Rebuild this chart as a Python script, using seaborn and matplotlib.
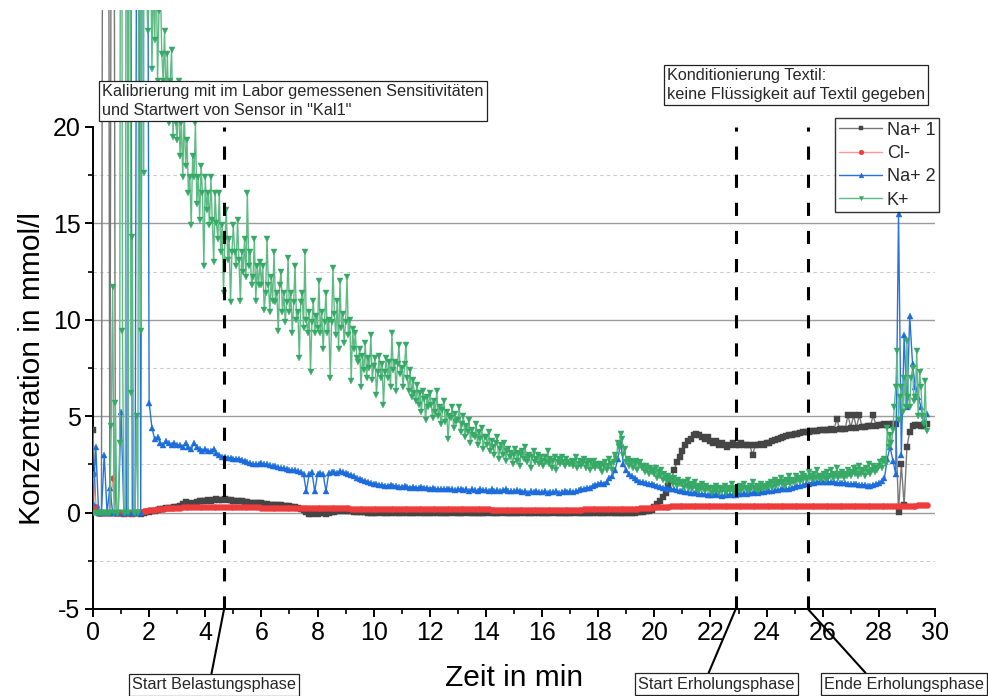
import numpy as np
import pandas as pd
import matplotlib
matplotlib.use("Agg")
import matplotlib.pyplot as plt
import seaborn as sns
from matplotlib.ticker import FixedLocator, MultipleLocator

# Sampling times in minutes: Na+/Cl- sensors every 0.1 min, K+ sensor every 0.05 min
time_min = np.round(np.arange(298) * 0.1, 1)
time_k = np.round(np.arange(595) * 0.05, 2)

# Na+ sensor 1 (mmol/l)
na1 = [
    4.3, 0.2, 0.0, 0.0, 80, 80, 0.0, 70, 0.0, 0.0,
    0.0, -0.05, 0.0, 0.0, -0.05, 0.0, 0.0, -0.05, 0.0, 0.02,
    0.05, 0.08, 0.1, 0.15, 0.18, 0.2, 0.22, 0.25, 0.25, 0.28,
    0.3, 0.35, 0.45, 0.55, 0.5, 0.45, 0.5, 0.55, 0.6, 0.6,
    0.6, 0.65, 0.6, 0.65, 0.7, 0.65, 0.65, 0.7, 0.65, 0.65,
    0.6, 0.62, 0.58, 0.6, 0.55, 0.55, 0.52, 0.5, 0.5, 0.48,
    0.48, 0.45, 0.45, 0.42, 0.4, 0.4, 0.38, 0.38, 0.35, 0.35,
    0.32, 0.3, 0.28, 0.25, 0.2, 0.12, 0.05, -0.05, -0.05, 0.0,
    -0.05, 0.0, 0.03, -0.05, 0.0, 0.05, 0.05, 0.08, 0.1, 0.1,
    0.1, 0.08, 0.06, 0.05, 0.05, 0.03, 0.02, 0.02, 0.0, 0.0,
    0.0, 0.0, 0.02, 0.0, -0.02, 0.0, 0.0, 0.02, 0.0, 0.0,
    0.0, 0.02, 0.0, 0.0, -0.02, 0.0, 0.02, 0.0, 0.0, 0.0,
    0.0, 0.0, 0.02, 0.0, 0.0, -0.02, 0.0, 0.0, 0.02, 0.0,
    0.0, 0.0, 0.0, 0.02, 0.0, 0.0, -0.02, 0.0, 0.0, 0.0,
    0.0, 0.02, 0.0, 0.0, 0.0, 0.0, 0.02, 0.0, -0.02, 0.0,
    0.0, 0.0, 0.0, 0.02, 0.0, 0.0, 0.0, 0.0, 0.02, 0.0,
    0.0, -0.02, 0.0, 0.0, 0.02, 0.0, 0.0, 0.0, 0.0, 0.0,
    0.0, 0.0, 0.02, 0.0, 0.0, 0.0, -0.02, 0.0, 0.0, 0.02,
    0.0, 0.0, 0.0, 0.0, 0.02, 0.0, 0.0, 0.0, 0.0, 0.0,
    0.0, 0.0, 0.0, 0.0, 0.02, 0.03, 0.05, 0.08, 0.1, 0.15,
    0.3, 0.45, 0.6, 0.8, 1.0, 1.4, 1.7, 2.2, 2.6, 2.9,
    3.2, 3.5, 3.7, 3.8, 4.0, 4.1, 4.0, 3.9, 3.8, 3.9,
    3.7, 3.6, 3.7, 3.5, 3.6, 3.5, 3.4, 3.5, 3.6, 3.5,
    3.5, 3.6, 3.5, 3.5, 3.5, 3.0, 3.5, 3.5, 3.55, 3.5,
    3.6, 3.6, 3.7, 3.75, 3.8, 3.85, 3.9, 3.95, 4.0, 4.05,
    4.1, 4.1, 4.15, 4.2, 4.2, 4.2, 4.25, 4.25, 4.25, 4.3,
    4.3, 4.3, 4.3, 4.35, 4.3, 4.85, 4.35, 4.35, 4.35, 5.05,
    4.4, 5.05, 4.4, 5.05, 4.45, 4.45, 4.5, 4.5, 5.05, 4.5,
    4.55, 4.55, 4.6, 4.55, 4.6, 4.6, 4.6, 0.05, 2.5, 0.4,
    3.4, 4.2, 4.5, 4.55, 4.55, 4.5, 4.5, 4.6,
]

# Cl- sensor (mmol/l)
cl = [
    2.0, 0.3, 0.0, 0.0, 0.0, 0.0, 0.0, 1.8, 0.0, 0.0,
    0.0, 0.0, 0.0, 0.0, 0.0, 0.0, 0.02, 0.05, 0.08, 0.1,
    0.12, 0.14, 0.16, 0.18, 0.2, 0.21, 0.22, 0.23, 0.24, 0.25,
    0.25, 0.26, 0.27, 0.27, 0.28, 0.28, 0.29, 0.29, 0.3, 0.3,
    0.3, 0.3, 0.31, 0.31, 0.3, 0.3, 0.3, 0.3, 0.3, 0.29,
    0.29, 0.29, 0.28, 0.28, 0.28, 0.28, 0.27, 0.27, 0.27, 0.27,
    0.26, 0.26, 0.26, 0.26, 0.25, 0.25, 0.25, 0.25, 0.25, 0.24,
    0.24, 0.24, 0.24, 0.24, 0.24, 0.23, 0.23, 0.23, 0.23, 0.23,
    0.23, 0.23, 0.22, 0.22, 0.22, 0.22, 0.22, 0.22, 0.22, 0.22,
    0.22, 0.22, 0.21, 0.21, 0.21, 0.21, 0.21, 0.21, 0.21, 0.21,
    0.21, 0.21, 0.2, 0.2, 0.2, 0.2, 0.2, 0.2, 0.2, 0.2,
    0.2, 0.2, 0.19, 0.19, 0.19, 0.19, 0.19, 0.19, 0.19, 0.19,
    0.19, 0.19, 0.18, 0.18, 0.18, 0.18, 0.18, 0.18, 0.18, 0.18,
    0.18, 0.18, 0.17, 0.17, 0.17, 0.17, 0.17, 0.17, 0.17, 0.17,
    0.17, 0.17, 0.16, 0.16, 0.16, 0.16, 0.16, 0.16, 0.16, 0.16,
    0.16, 0.16, 0.16, 0.16, 0.16, 0.16, 0.16, 0.16, 0.16, 0.16,
    0.16, 0.16, 0.16, 0.16, 0.16, 0.16, 0.16, 0.16, 0.16, 0.16,
    0.16, 0.16, 0.16, 0.16, 0.16, 0.17, 0.17, 0.17, 0.17, 0.17,
    0.17, 0.17, 0.17, 0.18, 0.18, 0.18, 0.18, 0.19, 0.19, 0.19,
    0.19, 0.2, 0.2, 0.21, 0.21, 0.22, 0.23, 0.24, 0.25, 0.26,
    0.27, 0.28, 0.29, 0.3, 0.31, 0.31, 0.32, 0.32, 0.33, 0.33,
    0.33, 0.34, 0.34, 0.34, 0.34, 0.34, 0.34, 0.34, 0.34, 0.34,
    0.34, 0.34, 0.34, 0.35, 0.35, 0.35, 0.35, 0.35, 0.35, 0.35,
    0.35, 0.35, 0.35, 0.35, 0.35, 0.35, 0.35, 0.35, 0.35, 0.35,
    0.35, 0.35, 0.35, 0.35, 0.35, 0.35, 0.35, 0.35, 0.35, 0.35,
    0.35, 0.35, 0.35, 0.35, 0.35, 0.35, 0.35, 0.35, 0.35, 0.35,
    0.35, 0.35, 0.35, 0.35, 0.35, 0.35, 0.35, 0.35, 0.35, 0.35,
    0.35, 0.35, 0.35, 0.34, 0.34, 0.34, 0.34, 0.34, 0.34, 0.34,
    0.34, 0.34, 0.33, 0.33, 0.33, 0.33, 0.33, 0.33, 0.34, 0.34,
    0.35, 0.35, 0.36, 0.36, 0.37, 0.38, 0.38, 0.4,
]

# Na+ sensor 2 (mmol/l)
na2 = [
    0.5, 3.4, 0.0, 0.0, 3.0, 0.0, 1.3, 0.0, 0.0, 0.0,
    5.2, 0.0, 0.0, 60, 0.0, 0.0, 60, 0.0, 60, 60,
    5.7, 4.4, 3.8, 3.9, 3.6, 3.5, 3.7, 3.6, 3.5, 3.6,
    3.5, 3.5, 3.4, 3.6, 3.4, 3.3, 3.6, 3.4, 3.3, 3.2,
    3.3, 3.2, 3.2, 3.3, 3.1, 3.0, 2.9, 2.9, 2.85, 2.85,
    2.8, 2.8, 2.8, 2.75, 2.7, 2.6, 2.55, 2.5, 2.5, 2.5,
    2.55, 2.5, 2.5, 2.45, 2.4, 2.4, 2.35, 2.3, 2.3, 2.25,
    2.2, 2.2, 2.2, 2.15, 2.1, 2.0, 1.1, 2.0, 2.1, 1.1,
    2.0, 2.05, 2.0, 1.1, 2.05, 2.1, 2.1, 2.05, 2.15, 2.1,
    2.05, 2.0, 1.95, 1.9, 1.8, 1.75, 1.7, 1.65, 1.6, 1.55,
    1.5, 1.5, 1.45, 1.45, 1.4, 1.4, 1.45, 1.4, 1.4, 1.35,
    1.35, 1.4, 1.35, 1.3, 1.35, 1.3, 1.3, 1.35, 1.3, 1.3,
    1.25, 1.3, 1.25, 1.2, 1.25, 1.2, 1.25, 1.2, 1.2, 1.15,
    1.2, 1.2, 1.15, 1.2, 1.1, 1.2, 1.15, 1.1, 1.2, 1.15,
    1.15, 1.1, 1.2, 1.1, 1.15, 1.1, 1.15, 1.2, 1.1, 1.1,
    1.1, 1.15, 1.1, 1.05, 1.1, 1.0, 1.1, 1.05, 1.1, 1.05,
    1.05, 1.1, 1.0, 1.05, 1.05, 1.1, 1.0, 1.05, 1.1, 1.05,
    1.1, 1.05, 1.1, 1.15, 1.2, 1.25, 1.3, 1.3, 1.4, 1.45,
    1.5, 1.55, 1.5, 1.6, 1.8, 1.9, 2.2, 2.8, 3.6, 2.5,
    2.2, 2.0, 1.9, 1.8, 1.7, 1.6, 1.6, 1.55, 1.5, 1.5,
    1.45, 1.4, 1.35, 1.3, 1.3, 1.25, 1.2, 1.2, 1.15, 1.1,
    1.1, 1.05, 1.05, 1.0, 1.0, 1.0, 0.95, 0.95, 0.95, 0.9,
    0.9, 0.9, 0.95, 0.9, 0.85, 0.9, 0.9, 0.95, 0.9, 0.9,
    0.95, 0.95, 1.0, 0.95, 1.0, 1.0, 1.05, 1.0, 1.05, 1.05,
    1.1, 1.1, 1.1, 1.15, 1.15, 1.2, 1.2, 1.25, 1.25, 1.3,
    1.35, 1.4, 1.4, 1.45, 1.5, 1.5, 1.55, 1.55, 1.6, 1.6,
    1.6, 1.6, 1.6, 1.6, 1.6, 1.55, 1.55, 1.55, 1.55, 1.5,
    1.5, 1.5, 1.5, 1.45, 1.45, 1.45, 1.4, 1.4, 1.45, 1.5,
    1.55, 1.65, 1.8, 2.8, 3.4, 2.7, 2.0, 15.5, 3.0, 9.2,
    5.5, 10.2, 7.7, 6.5, 6.0, 5.5, 4.8, 5.1,
]

# K+ sensor (mmol/l)
k_plus = [
    0.0, 0.0, 0.0, 0.0, 0.0, 0.0, 0.0, 0.0, 0.0, 0.0, 0.0, 0.0, 0.0, 4.5, 11.7, 0.0, 5.7, 0.0, 0.0, 3.6,
    60, 9.4, 0.0, 0.0, 60, 0.0, 60, 6.2, 14.3, 0.0, 0.0, 5.0, 0.0, 60, 9.4, 60, 17.6, 60, 28.0, 25.0,
    26.5, 30.0, 23.0, 28.0, 24.5, 29.0, 22.4, 26.0, 27.5, 23.8, 22.4, 25.0, 21.0, 23.8, 20.2, 22.4, 24.0, 19.5, 21.5, 20.2,
    19.3, 22.4, 18.5, 20.2, 17.4, 21.0, 18.0, 19.3, 16.6, 17.4, 14.9, 18.5, 17.4, 20.2, 16.0, 17.4, 15.2, 18.0, 16.6, 12.8,
    17.4, 15.7, 16.6, 14.9, 17.4, 15.2, 13.0, 16.6, 15.0, 14.2, 16.6, 13.5, 14.9, 11.4, 14.2, 15.7, 13.1, 14.2, 10.9, 13.5,
    14.9, 13.5, 12.8, 15.2, 13.1, 11.0, 13.5, 12.5, 14.2, 12.2, 16.6, 12.8, 13.5, 11.8, 12.2, 14.2, 11.0, 12.8, 11.8, 13.0,
    11.8, 12.8, 10.5, 11.4, 14.2, 11.8, 10.4, 12.2, 11.0, 13.5, 10.9, 11.4, 9.4, 11.8, 12.5, 10.4, 11.4, 9.9, 10.9, 13.2,
    10.4, 11.4, 9.3, 10.9, 12.8, 10.0, 10.4, 8.0, 10.9, 11.4, 9.6, 13.5, 10.0, 9.3, 10.4, 7.3, 9.9, 11.0, 9.3, 10.2,
    9.6, 12.0, 9.3, 10.4, 8.5, 9.9, 11.4, 9.3, 10.0, 7.0, 9.9, 12.7, 10.3, 9.2, 11.0, 8.5, 12.0, 9.6, 10.3, 8.8,
    9.9, 12.2, 9.2, 10.0, 6.8, 9.5, 8.5, 9.3, 8.0, 7.8, 8.5, 6.5, 8.1, 7.4, 8.8, 7.0, 8.0, 7.5, 9.2, 6.9,
    7.6, 8.0, 6.1, 7.3, 8.1, 7.0, 7.7, 5.6, 7.3, 8.0, 7.0, 7.8, 6.5, 9.3, 7.4, 7.8, 6.3, 7.7, 8.7, 7.2,
    7.5, 6.5, 7.7, 8.7, 7.0, 6.3, 7.4, 6.0, 6.9, 6.2, 5.8, 6.6, 5.6, 6.2, 5.2, 6.3, 5.9, 4.8, 6.0, 5.5,
    6.2, 5.6, 4.9, 5.8, 5.2, 6.3, 5.0, 5.5, 4.6, 5.3, 5.8, 4.7, 5.2, 3.8, 5.0, 4.9, 5.5, 4.4, 5.1, 4.7,
    4.8, 5.5, 4.2, 4.6, 5.0, 3.9, 4.5, 4.2, 4.8, 3.6, 4.3, 4.0, 3.9, 4.6, 3.5, 4.2, 3.8, 4.4, 3.3, 3.9,
    3.9, 3.5, 4.2, 3.2, 3.7, 3.4, 3.0, 3.6, 3.9, 2.8, 3.3, 3.5, 3.0, 3.6, 2.7, 3.2, 3.3, 2.9, 3.1, 2.5,
    3.0, 3.3, 2.7, 3.1, 2.4, 3.0, 3.2, 2.8, 3.4, 2.6, 2.9, 3.0, 2.3, 2.9, 3.2, 2.6, 2.8, 3.0, 2.5, 2.9,
    2.7, 2.4, 2.9, 2.6, 3.2, 2.5, 2.8, 2.3, 2.7, 2.9, 2.2, 2.6, 2.8, 2.5, 2.9, 2.6, 2.4, 2.8, 2.6, 2.5,
    2.5, 2.7, 2.4, 2.6, 2.9, 2.3, 2.5, 2.7, 2.4, 2.6, 2.8, 2.3, 2.5, 2.7, 2.2, 2.6, 2.4, 2.7, 2.3, 2.5,
    2.4, 2.3, 2.5, 2.1, 2.4, 2.6, 2.2, 2.4, 2.8, 2.5, 2.2, 2.6, 3.0, 2.8, 3.6, 3.4, 4.1, 3.8, 3.0, 3.3,
    2.6, 2.8, 2.4, 2.7, 2.6, 2.3, 2.5, 2.7, 2.2, 2.5, 2.6, 2.3, 2.4, 2.1, 2.4, 2.2, 2.0, 2.3, 2.1, 2.2,
    2.0, 2.3, 1.8, 2.1, 1.9, 2.2, 1.7, 2.0, 1.8, 1.6, 1.9, 1.7, 1.8, 1.5, 1.8, 1.6, 1.4, 1.7, 1.5, 1.6,
    1.5, 1.3, 1.6, 1.4, 1.7, 1.3, 1.5, 1.2, 1.4, 1.6, 1.3, 1.1, 1.4, 1.2, 1.5, 1.3, 1.1, 1.4, 1.2, 1.3,
    1.2, 1.0, 1.3, 1.1, 1.4, 1.2, 1.0, 1.3, 1.1, 1.2, 1.4, 1.0, 1.2, 1.3, 1.1, 1.5, 1.2, 1.0, 1.3, 1.1,
    1.2, 1.4, 1.1, 1.3, 1.5, 1.2, 1.3, 1.1, 1.4, 1.2, 1.6, 1.3, 1.2, 1.4, 1.1, 1.3, 1.5, 1.2, 1.4, 1.3,
    1.3, 1.5, 1.4, 1.6, 1.3, 1.5, 1.7, 1.4, 1.6, 1.5, 1.8, 1.5, 1.6, 1.4, 1.7, 1.6, 1.9, 1.5, 1.7, 1.6,
    1.6, 1.9, 1.7, 1.8, 1.6, 2.0, 1.7, 1.9, 1.8, 1.7, 2.1, 1.8, 1.9, 1.7, 2.0, 1.8, 2.2, 1.8, 1.9, 1.7,
    1.9, 2.0, 1.7, 2.1, 1.8, 1.9, 2.2, 1.8, 2.0, 1.9, 2.3, 1.8, 2.0, 1.9, 2.1, 1.8, 2.0, 1.9, 2.2, 2.0,
    1.9, 2.1, 2.3, 2.0, 2.2, 1.9, 2.4, 2.0, 2.2, 2.1, 1.9, 2.3, 2.1, 2.5, 2.0, 2.2, 2.4, 2.1, 2.3, 2.2,
    2.4, 2.6, 2.3, 2.7, 2.8, 2.5, 4.4, 3.4, 4.0, 3.6, 4.3, 5.5, 6.5, 8.4, 4.8, 6.0, 6.5, 5.2, 7.0, 5.5,
    8.9, 6.0, 5.5, 7.0, 7.5, 5.8, 6.0, 8.4, 5.0, 7.3, 6.5, 5.0, 4.6, 6.8, 4.25,
]

ion_names = ["Na+ 1", "Cl-", "Na+ 2", "K+"]
phase_times = [4.67, 22.9, 25.47]
phase_labels = ["Start Belastungsphase", "Start Erholungsphase", "Ende Erholungsphase"]
note_calibration = 'Kalibrierung mit im Labor gemessenen Sensitivitäten\nund Startwert von Sensor in "Kal1"'
note_conditioning = "Konditionierung Textil:\nkeine Flüssigkeit auf Textil gegeben"

df = pd.concat([
    pd.DataFrame({"Zeit": time_min, "Wert": na1, "Ion": "Na+ 1"}),
    pd.DataFrame({"Zeit": time_min, "Wert": cl, "Ion": "Cl-"}),
    pd.DataFrame({"Zeit": time_min, "Wert": na2, "Ion": "Na+ 2"}),
    pd.DataFrame({"Zeit": time_k, "Wert": k_plus, "Ion": "K+"}),
], ignore_index=True)

sns.set_theme(style="ticks")
plt.rcParams["font.family"] = ["Liberation Sans", "DejaVu Sans"]
plt.rcParams["axes.unicode_minus"] = False

W, H = 988, 696
fig = plt.figure(figsize=(W / 100, H / 100), dpi=100)
ax = fig.add_axes([93 / W, 1 - 609 / H, 842 / W, 599 / H])

# line colour, marker colour, marker, marker size
styles = {
    "Na+ 1": ("#777777", "#454545", "s", 4.1),
    "Cl-": ("#f49a9a", "#ee3b3b", "o", 4.3),
    "Na+ 2": ("#2673e0", "#1d6cdc", "^", 4.3),
    "K+": ("#5fba86", "#36a966", "v", 3.8),
}
for name in ion_names:
    lc, mc, mk, ms = styles[name]
    sns.lineplot(data=df[df["Ion"] == name], x="Zeit", y="Wert", ax=ax,
                 estimator=None, sort=False, color=lc, linewidth=1.0,
                 marker=mk, markersize=ms, markerfacecolor=mc,
                 markeredgecolor=mc, markeredgewidth=0.3, label=name,
                 legend=False, zorder=3)

ax.set_xlim(0, 30)
ax.set_ylim(-5, 20 + (127 - 10) * 25 / 482)

# grid
for v in [0, 5, 10, 15]:
    ax.axhline(v, color="#9c9c9c", lw=1.0, zorder=1)
for v in [-2.5, 2.5, 7.5, 12.5, 17.5]:
    ax.axhline(v, color="#c9c9c9", lw=0.8, ls=(0, (3, 3)), zorder=1)

# phase markers
ax.vlines(phase_times, -5, 20, colors="black", lw=2.2,
          linestyles=(0, (4.3, 4.9)), zorder=6)

# axes styling
for side in ["top", "right"]:
    ax.spines[side].set_visible(False)
ax.spines["left"].set_bounds(-5, 20)
for side in ["left", "bottom"]:
    ax.spines[side].set_color("black")
    ax.spines[side].set_linewidth(1.4)

ax.set_xticks(range(0, 31, 2))
ax.xaxis.set_minor_locator(MultipleLocator(1))
ax.set_yticks([-5, 0, 5, 10, 15, 20])
ax.yaxis.set_minor_locator(FixedLocator([-2.5, 2.5, 7.5, 12.5, 17.5]))
ax.tick_params(which="major", direction="out", length=6, width=1.4,
               color="black", labelsize=18, labelcolor="black", pad=3)
ax.tick_params(which="minor", direction="out", length=3.5, width=1.2,
               color="black")

ax.set_xlabel("Zeit in min", fontsize=21.5, color="black")
ax.set_ylabel("Konzentration in mmol/l", fontsize=21.5, color="black")
ax.xaxis.set_label_coords(0.5, -0.092)
ax.yaxis.set_label_coords(-0.056, 0.402)

# legend
handles, labels = ax.get_legend_handles_labels()
leg = fig.legend(handles, labels, loc="upper right",
                 bbox_to_anchor=(939 / W, 1 - 118 / H), frameon=True,
                 fancybox=False, edgecolor="black", fontsize=13,
                 handlelength=2.4, handletextpad=0.25, borderpad=0.2,
                 labelspacing=0.35, borderaxespad=0, markerscale=0.8)
leg.get_frame().set_linewidth(1.0)
leg.set_zorder(10)

box = dict(boxstyle="square,pad=0.2", fc="white", ec="#222222", lw=0.9)

fig.text(102 / W, 1 - 84 / H, note_calibration, ha="left", va="top",
         fontsize=11.7, linespacing=1.3, bbox=box, zorder=10)
fig.text(667 / W, 1 - 68 / H, note_conditioning, ha="left", va="top",
         fontsize=11.7, linespacing=1.3, bbox=box, zorder=10)

label_pos = [(214, 685, 0.48), (716.5, 684, 0.44), (904, 684, 0.28)]
for t, text, (px, py, rel) in zip(phase_times, phase_labels, label_pos):
    ax.annotate(text, xy=(t, -5), xycoords="data",
                xytext=(px / W, 1 - py / H), textcoords="figure fraction",
                ha="center", va="center", fontsize=11.7, bbox=box,
                annotation_clip=False, zorder=10,
                arrowprops=dict(arrowstyle="-", color="black", lw=1.5,
                                relpos=(rel, 1.0), shrinkA=0, shrinkB=0))

fig.savefig("out.png", dpi=100)
